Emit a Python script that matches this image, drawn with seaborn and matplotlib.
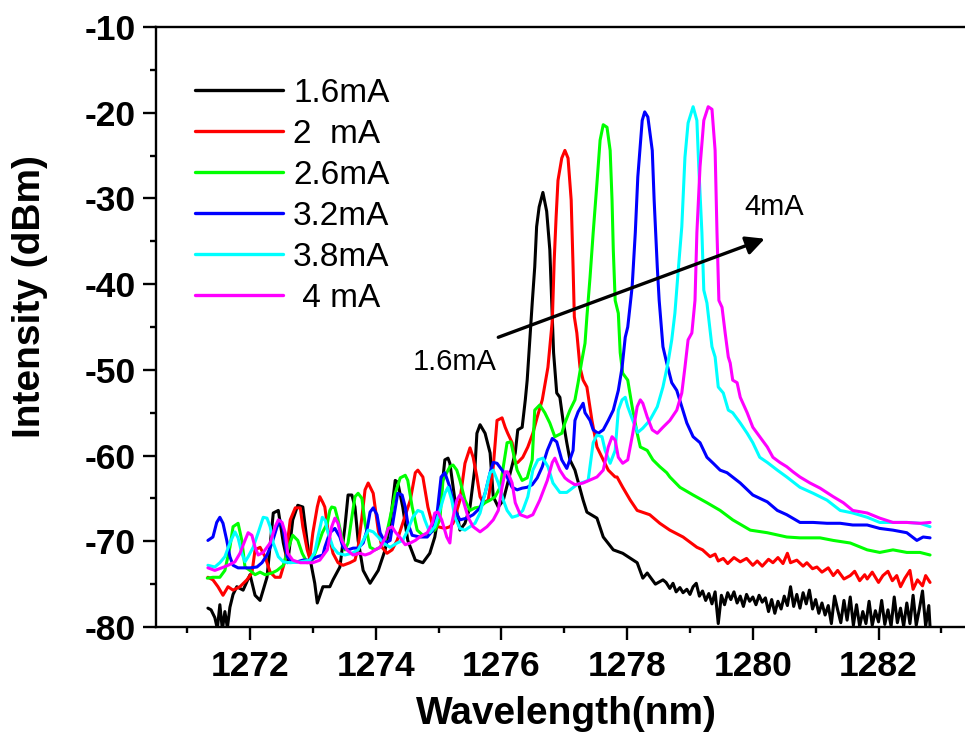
import numpy as np
import pandas as pd
import matplotlib
matplotlib.use("Agg")
import matplotlib.pyplot as plt
from matplotlib.ticker import MultipleLocator
import seaborn as sns

# ---------------- data ----------------
labels = ["1.6mA", "2  mA", "2.6mA", "3.2mA", "3.8mA", " 4 mA"]
colors = ["#000000", "#FF0000", "#00FF00", "#0000FF", "#00FFFF", "#FF00FF"]

wl_16 = [1271.33, 1271.38, 1271.44, 1271.48, 1271.52, 1271.56, 1271.60, 1271.64, 1271.68, 1271.73,
         1271.79, 1271.89, 1272.00, 1272.08, 1272.16, 1272.27, 1272.37, 1272.45, 1272.53, 1272.60,
         1272.68, 1272.76, 1272.84, 1272.92, 1273.03, 1273.07, 1273.16, 1273.27, 1273.32, 1273.43,
         1273.51, 1273.56, 1273.62, 1273.67, 1273.72, 1273.80, 1273.91, 1274.04, 1274.15, 1274.23,
         1274.31, 1274.35, 1274.43, 1274.51, 1274.63, 1274.75, 1274.86, 1274.94, 1275.02, 1275.10,
         1275.15, 1275.18, 1275.26, 1275.34, 1275.42, 1275.50, 1275.58, 1275.61, 1275.66, 1275.74,
         1275.82, 1275.87, 1275.95, 1276.03, 1276.10, 1276.22, 1276.26, 1276.33, 1276.38, 1276.41,
         1276.49, 1276.53, 1276.56, 1276.60, 1276.66, 1276.72, 1276.77, 1276.81, 1276.83, 1276.88,
         1276.93, 1276.98, 1277.04, 1277.09, 1277.17, 1277.30, 1277.36, 1277.52, 1277.62, 1277.78,
         1277.93, 1278.16, 1278.25, 1278.32, 1278.45, 1278.57,
         1278.62, 1278.68, 1278.73, 1278.78, 1278.84, 1278.89, 1278.95, 1279.00, 1279.05, 1279.10,
         1279.15, 1279.20, 1279.25, 1279.30, 1279.35, 1279.40, 1279.45, 1279.50, 1279.55, 1279.60,
         1279.65, 1279.70, 1279.75, 1279.80, 1279.85, 1279.90, 1279.95, 1280.00, 1280.05, 1280.10,
         1280.15, 1280.20, 1280.25, 1280.30, 1280.35, 1280.40, 1280.45, 1280.50, 1280.55, 1280.60,
         1280.65, 1280.70, 1280.75, 1280.80, 1280.85, 1280.90, 1280.95, 1281.00, 1281.05, 1281.10,
         1281.15, 1281.20, 1281.25, 1281.30, 1281.35, 1281.40, 1281.45, 1281.50, 1281.55, 1281.60,
         1281.65, 1281.70, 1281.75, 1281.80, 1281.85, 1281.90, 1281.95, 1282.00, 1282.05, 1282.10,
         1282.15, 1282.20, 1282.25, 1282.30, 1282.35, 1282.40, 1282.45, 1282.50, 1282.55, 1282.60,
         1282.65, 1282.70, 1282.75, 1282.80, 1282.82]
db_16 = [-77.8, -78.0, -78.9, -80.2, -77.4, -80.3, -78.2, -80.1, -77.7, -76.2,
         -75.3, -75.7, -73.9, -76.3, -76.9, -74.2, -66.7, -66.4, -70.2, -72.5,
         -67.5, -65.8, -66.0, -70.7, -74.9, -77.2, -75.3, -75.3, -74.5, -73.0,
         -68.3, -64.6, -64.6, -66.0, -69.9, -73.4, -74.9, -73.4, -71.0, -67.9,
         -62.9, -63.1, -66.0, -69.9, -72.2, -72.5, -71.4, -69.5, -66.0, -60.5,
         -60.3, -60.9, -65.2, -68.7, -67.9, -66.0, -61.3, -57.4, -56.4, -57.4,
         -59.7, -64.8, -66.0, -65.2, -63.2, -59.7, -57.0, -56.7, -53.5, -51.2,
         -42.2, -38.0, -33.3, -31.0, -29.3, -31.5, -36.0, -43.8, -48.0, -52.7,
         -53.2, -55.9, -58.5, -60.5, -61.7, -65.2, -66.6, -67.3, -69.5, -71.0,
         -71.4, -72.5, -74.3, -73.7, -75.0, -74.5,
         -74.8, -75.5, -74.9, -75.9, -75.4, -76.0, -75.6, -76.2, -75.3, -74.9,
         -76.4, -75.8, -76.9, -76.1, -77.3, -75.9, -79.6, -76.3, -77.4, -76.0,
         -76.8, -75.9, -77.2, -76.4, -77.6, -76.2, -77.0, -76.5, -77.4, -76.3,
         -77.1, -76.6, -78.2, -76.8, -78.4, -77.0, -77.9, -76.4, -77.5, -75.3,
         -77.6, -76.2, -77.8, -76.0, -77.3, -75.7, -77.9, -76.8, -78.4, -77.2,
         -78.6, -77.5, -79.6, -76.4, -78.0, -79.5, -76.9, -79.2, -76.5, -79.8,
         -77.4, -79.9, -78.2, -79.6, -77.0, -79.8, -78.1, -79.4, -76.9, -79.7,
         -78.0, -79.9, -76.5, -79.5, -77.8, -79.9, -77.2, -79.6, -76.3, -79.8,
         -77.9, -75.8, -79.9, -77.5, -80.0]

wl_20 = [1271.33, 1271.41, 1271.49, 1271.57, 1271.65, 1271.73, 1271.84, 1271.95, 1272.03, 1272.08,
         1272.16, 1272.24, 1272.32, 1272.40, 1272.48, 1272.56, 1272.64, 1272.72, 1272.80, 1272.84,
         1272.91, 1272.95, 1273.00, 1273.07, 1273.11, 1273.16, 1273.19, 1273.24, 1273.32, 1273.40,
         1273.48, 1273.59, 1273.67, 1273.72, 1273.78, 1273.83, 1273.88, 1273.96, 1274.04, 1274.10,
         1274.18, 1274.26, 1274.34, 1274.43, 1274.55, 1274.63, 1274.67, 1274.75, 1274.83, 1274.91,
         1274.99, 1275.10, 1275.18, 1275.23, 1275.34, 1275.42, 1275.50, 1275.55, 1275.61, 1275.66,
         1275.71, 1275.79, 1275.87, 1275.93, 1276.01, 1276.06, 1276.10, 1276.17, 1276.22, 1276.26,
         1276.34, 1276.42, 1276.50, 1276.57, 1276.65, 1276.74, 1276.81, 1276.84, 1276.87, 1276.90,
         1276.96, 1277.01, 1277.06, 1277.11, 1277.14, 1277.16, 1277.20, 1277.25, 1277.30, 1277.36,
         1277.44, 1277.52, 1277.62, 1277.70, 1277.81, 1277.84, 1277.93, 1278.05, 1278.16, 1278.36,
         1278.52, 1278.68, 1278.89, 1279.00, 1279.11, 1279.20, 1279.32, 1279.40, 1279.45, 1279.53,
         1279.60, 1279.70, 1279.80, 1279.90, 1280.00, 1280.07, 1280.15, 1280.25, 1280.32, 1280.40,
         1280.48, 1280.55, 1280.60, 1280.70, 1280.80, 1280.86, 1280.95, 1281.02, 1281.10, 1281.20,
         1281.28, 1281.35, 1281.45, 1281.55, 1281.62, 1281.70, 1281.78, 1281.82, 1281.90, 1282.00,
         1282.07, 1282.15, 1282.22, 1282.29, 1282.35, 1282.42, 1282.50, 1282.55, 1282.62, 1282.70,
         1282.75, 1282.82]
db_20 = [-74.2, -74.5, -75.3, -76.3, -75.3, -75.7, -75.3, -74.5, -73.7, -71.0,
         -70.7, -71.8, -73.6, -74.2, -74.2, -72.2, -67.5, -66.1, -66.1, -68.3,
         -71.0, -72.0, -69.0, -66.0, -64.8, -65.5, -66.0, -68.7, -71.4, -72.5,
         -72.8, -72.5, -72.2, -70.7, -67.2, -64.0, -63.2, -64.4, -68.7, -70.7,
         -71.4, -71.0, -69.9, -67.9, -65.2, -62.0, -61.7, -62.5, -66.0, -68.3,
         -68.3, -68.5, -68.3, -67.9, -65.2, -60.9, -59.1, -60.2, -62.5, -64.8,
         -65.5, -65.2, -61.3, -55.9, -55.6, -56.7, -57.4, -58.5, -60.9, -60.8,
         -60.2, -59.0, -57.4, -55.5, -53.5, -49.7, -44.2, -37.2, -32.2, -27.9,
         -25.3, -24.4, -25.3, -30.2, -38.0, -43.8, -45.7, -49.7, -51.2, -52.0,
         -55.9, -59.0, -60.5, -61.7, -62.5, -62.5, -63.7, -65.2, -66.4, -66.9,
         -67.9, -68.7, -69.5, -70.1, -70.7, -71.0, -71.8, -71.5, -72.3, -72.0,
         -72.6, -71.9, -72.4, -72.0, -72.8, -72.3, -72.9, -72.1, -72.5, -71.9,
         -72.6, -71.4, -72.5, -72.2, -72.9, -72.5, -73.2, -73.0, -73.6, -73.1,
         -74.0, -73.4, -74.4, -74.0, -73.5, -74.6, -73.9, -74.4, -73.6, -74.8,
         -74.0, -73.5, -74.6, -74.0, -75.3, -74.3, -73.4, -75.6, -74.5, -75.2,
         -74.0, -74.8]

wl_26 = [1271.32, 1271.41, 1271.52, 1271.60, 1271.68, 1271.73, 1271.81, 1271.87, 1271.92, 1272.00,
         1272.08, 1272.16, 1272.24, 1272.35, 1272.43, 1272.53, 1272.60, 1272.68, 1272.76, 1272.83,
         1272.91, 1272.99, 1273.07, 1273.15, 1273.23, 1273.27, 1273.30, 1273.35, 1273.40, 1273.46,
         1273.51, 1273.56, 1273.62, 1273.67, 1273.72, 1273.78, 1273.83, 1273.91, 1273.99, 1274.07,
         1274.15, 1274.23, 1274.31, 1274.39, 1274.47, 1274.51, 1274.58, 1274.66, 1274.75, 1274.86,
         1274.94, 1275.02, 1275.07, 1275.13, 1275.18, 1275.23, 1275.29, 1275.34, 1275.42, 1275.50,
         1275.58, 1275.66, 1275.74, 1275.82, 1275.90, 1275.98, 1276.03, 1276.09, 1276.15, 1276.18,
         1276.25, 1276.33, 1276.41, 1276.49, 1276.53, 1276.61, 1276.69, 1276.77, 1276.85, 1276.96,
         1277.01, 1277.09, 1277.17, 1277.22, 1277.28, 1277.33, 1277.36, 1277.41, 1277.46, 1277.52,
         1277.57, 1277.62, 1277.68, 1277.73, 1277.76, 1277.78, 1277.81, 1277.86, 1277.89, 1277.93,
         1278.01, 1278.08, 1278.16, 1278.21, 1278.32, 1278.41, 1278.52, 1278.63, 1278.68, 1278.84,
         1279.05, 1279.27, 1279.48, 1279.68, 1279.96, 1280.23, 1280.54, 1280.75, 1281.07, 1281.28,
         1281.55, 1281.82, 1282.02, 1282.23, 1282.45, 1282.66, 1282.82]
db_26 = [-74.3, -74.2, -74.2, -73.4, -70.7, -68.3, -67.9, -69.9, -73.0, -73.4,
         -73.9, -73.6, -73.9, -73.7, -73.4, -72.8, -71.0, -69.3, -69.9, -71.4,
         -72.5, -72.2, -70.7, -69.0, -67.9, -66.4, -66.0, -66.1, -67.5, -69.5,
         -71.0, -70.2, -67.2, -64.8, -64.4, -65.0, -67.9, -70.7, -71.0, -70.7,
         -69.9, -67.2, -64.4, -62.6, -62.3, -62.9, -66.0, -68.7, -69.3, -69.0,
         -68.7, -67.5, -62.9, -62.0, -61.3, -61.1, -61.7, -62.9, -65.2, -66.4,
         -66.1, -66.0, -65.5, -65.2, -64.8, -63.7, -61.3, -58.5, -58.4, -59.4,
         -61.7, -62.9, -62.6, -60.5, -54.7, -54.1, -55.0, -56.2, -57.8, -57.4,
         -56.2, -54.7, -53.5, -51.5, -48.9, -46.9, -43.8, -39.2, -34.0, -28.2,
         -23.2, -21.4, -21.7, -24.4, -30.2, -36.0, -41.9, -43.4, -48.0, -50.4,
         -51.2, -54.3, -57.4, -59.0, -59.4, -60.5, -61.3, -62.0, -62.5, -63.7,
         -64.6, -65.5, -66.4, -67.5, -68.7, -69.0, -69.5, -69.6, -69.6, -69.9,
         -70.2, -71.0, -71.3, -71.0, -71.3, -71.3, -71.6]

wl_32 = [1271.33, 1271.41, 1271.47, 1271.52, 1271.57, 1271.63, 1271.68, 1271.73, 1271.81, 1271.89,
         1272.00, 1272.11, 1272.19, 1272.27, 1272.35, 1272.43, 1272.48, 1272.53, 1272.59, 1272.67,
         1272.75, 1272.84, 1272.95, 1273.07, 1273.16, 1273.19, 1273.27, 1273.35, 1273.43, 1273.48,
         1273.56, 1273.64, 1273.72, 1273.80, 1273.86, 1273.91, 1273.96, 1274.02, 1274.07, 1274.15,
         1274.23, 1274.28, 1274.35, 1274.42, 1274.47, 1274.51, 1274.58, 1274.70, 1274.82, 1274.91,
         1274.98, 1275.04, 1275.10, 1275.18, 1275.26, 1275.34, 1275.45, 1275.55, 1275.66, 1275.74,
         1275.82, 1275.87, 1275.93, 1276.01, 1276.09, 1276.17, 1276.25, 1276.33, 1276.41, 1276.49,
         1276.57, 1276.65, 1276.73, 1276.81, 1276.88, 1276.96, 1277.04, 1277.14, 1277.17, 1277.22,
         1277.30, 1277.33, 1277.41, 1277.46, 1277.54, 1277.62, 1277.70, 1277.78, 1277.86, 1277.92,
         1277.97, 1278.01, 1278.08, 1278.13, 1278.17, 1278.24, 1278.28, 1278.33, 1278.40, 1278.43,
         1278.48, 1278.51, 1278.57, 1278.63, 1278.71, 1278.79, 1278.87, 1278.95, 1279.05, 1279.16,
         1279.27, 1279.37, 1279.48, 1279.59, 1279.80, 1280.00, 1280.23, 1280.39, 1280.54, 1280.75,
         1280.96, 1281.18, 1281.39, 1281.59, 1281.82, 1282.02, 1282.23, 1282.45, 1282.61, 1282.71,
         1282.82]
db_32 = [-69.9, -69.5, -67.8, -67.2, -67.9, -69.9, -71.8, -72.8, -73.1, -73.1,
         -73.1, -73.0, -72.5, -71.6, -70.2, -68.3, -67.6, -68.6, -71.8, -72.4,
         -72.4, -72.2, -72.2, -71.8, -71.6, -70.7, -69.0, -68.5, -69.5, -70.7,
         -71.0, -70.8, -70.8, -70.2, -68.7, -66.6, -66.1, -66.9, -69.0, -70.2,
         -69.9, -67.5, -64.4, -64.6, -66.0, -67.9, -69.3, -69.5, -69.5, -68.7,
         -66.5, -62.5, -62.0, -63.7, -66.4, -67.5, -67.3, -66.9, -66.1, -64.4,
         -62.0, -60.8, -60.9, -61.7, -62.5, -63.7, -64.0, -63.8, -63.7, -63.4,
         -62.6, -61.3, -59.4, -58.0, -58.4, -60.5, -61.5, -59.4, -55.9, -54.9,
         -53.9, -55.0, -55.9, -57.0, -57.4, -57.0, -55.9, -54.7, -52.4, -49.7,
         -46.2, -45.0, -40.3, -34.0, -27.5, -20.9, -19.9, -20.5, -24.4, -30.2,
         -38.0, -41.9, -47.3, -49.2, -51.5, -52.4, -54.3, -56.2, -57.8, -58.5,
         -60.2, -60.9, -61.7, -62.0, -63.2, -64.6, -65.4, -66.4, -66.9, -67.8,
         -67.8, -67.9, -67.9, -68.1, -68.1, -68.5, -68.7, -69.0, -69.9, -69.5,
         -69.6]

wl_38 = [1271.33, 1271.44, 1271.52, 1271.60, 1271.68, 1271.76, 1271.81, 1271.87, 1271.92, 1271.97,
         1272.05, 1272.13, 1272.21, 1272.27, 1272.32, 1272.37, 1272.45, 1272.53, 1272.64, 1272.80,
         1272.95, 1273.03, 1273.08, 1273.15, 1273.20, 1273.24, 1273.32, 1273.40, 1273.51, 1273.62,
         1273.72, 1273.80, 1273.88, 1273.96, 1274.04, 1274.12, 1274.23, 1274.34, 1274.43, 1274.51,
         1274.59, 1274.67, 1274.74, 1274.78, 1274.86, 1274.94, 1275.02, 1275.10, 1275.15, 1275.21,
         1275.26, 1275.34, 1275.42, 1275.50, 1275.58, 1275.66, 1275.74, 1275.82, 1275.87, 1275.95,
         1276.03, 1276.09, 1276.17, 1276.26, 1276.34, 1276.42, 1276.50, 1276.58, 1276.66, 1276.74,
         1276.82, 1276.93, 1277.04, 1277.20, 1277.38, 1277.46, 1277.52, 1277.60, 1277.65, 1277.73,
         1277.81, 1277.86, 1277.92, 1277.97, 1278.01, 1278.09, 1278.17, 1278.25, 1278.36, 1278.48,
         1278.57, 1278.65, 1278.71, 1278.76, 1278.81, 1278.87, 1278.92, 1278.97, 1279.05, 1279.11,
         1279.14, 1279.19, 1279.22, 1279.27, 1279.35, 1279.40, 1279.45, 1279.53, 1279.61, 1279.68,
         1279.80, 1279.91, 1280.00, 1280.11, 1280.23, 1280.39, 1280.54, 1280.75, 1280.96, 1281.18,
         1281.39, 1281.59, 1281.82, 1282.02, 1282.23, 1282.45, 1282.66, 1282.82]
db_38 = [-72.8, -73.0, -72.5, -71.8, -70.2, -68.9, -69.6, -71.4, -72.4, -71.8,
         -70.7, -69.0, -67.2, -67.3, -68.3, -70.2, -71.8, -72.4, -72.5, -72.4,
         -72.2, -71.3, -69.5, -67.2, -67.6, -69.0, -70.7, -71.4, -71.6, -71.4,
         -71.0, -69.9, -68.7, -68.9, -69.5, -70.2, -70.7, -70.2, -69.9, -68.7,
         -67.2, -66.4, -66.6, -67.5, -69.0, -68.3, -66.4, -64.4, -63.7, -65.2,
         -67.2, -68.5, -68.7, -68.3, -67.9, -66.7, -64.4, -62.0, -61.7, -63.2,
         -65.2, -66.4, -67.2, -67.0, -66.4, -64.8, -61.7, -60.5, -60.3, -61.3,
         -63.2, -64.3, -64.3, -63.4, -62.9, -58.5, -57.6, -57.8, -59.4, -60.9,
         -59.4, -54.7, -53.5, -53.2, -54.3, -55.9, -57.3, -56.8, -55.9, -54.3,
         -52.0, -49.2, -46.5, -43.4, -38.7, -33.3, -25.2, -21.2, -19.3, -20.9,
         -26.3, -34.0, -40.7, -42.2, -47.3, -48.5, -52.0, -52.7, -54.7, -55.0,
         -56.2, -57.4, -58.5, -60.2, -60.8, -61.7, -62.5, -63.7, -64.4, -65.2,
         -66.4, -66.7, -67.2, -67.8, -67.8, -67.8, -67.9, -68.3]

wl_40 = [1271.33, 1271.44, 1271.55, 1271.65, 1271.76, 1271.84, 1271.92, 1271.97, 1272.03, 1272.08,
         1272.13, 1272.21, 1272.32, 1272.40, 1272.45, 1272.51, 1272.56, 1272.60, 1272.68, 1272.80,
         1272.91, 1273.00, 1273.11, 1273.23, 1273.30, 1273.35, 1273.40, 1273.46, 1273.54, 1273.64,
         1273.75, 1273.83, 1273.91, 1273.99, 1274.07, 1274.15, 1274.20, 1274.26, 1274.31, 1274.39,
         1274.47, 1274.55, 1274.63, 1274.70, 1274.82, 1274.90, 1274.94, 1274.99, 1275.05, 1275.13,
         1275.18, 1275.21, 1275.29, 1275.34, 1275.39, 1275.47, 1275.55, 1275.66, 1275.77, 1275.87,
         1275.95, 1276.01, 1276.06, 1276.10, 1276.17, 1276.22, 1276.30, 1276.41, 1276.50, 1276.61,
         1276.73, 1276.81, 1276.85, 1276.93, 1277.01, 1277.06, 1277.17, 1277.30, 1277.52, 1277.62,
         1277.70, 1277.76, 1277.81, 1277.86, 1277.93, 1278.01, 1278.09, 1278.16, 1278.21, 1278.25,
         1278.32, 1278.40, 1278.48, 1278.57, 1278.68, 1278.79, 1278.87, 1278.92, 1278.97, 1279.03,
         1279.08, 1279.11, 1279.16, 1279.22, 1279.29, 1279.35, 1279.40, 1279.43, 1279.46, 1279.51,
         1279.56, 1279.61, 1279.64, 1279.68, 1279.75, 1279.80, 1279.91, 1280.00, 1280.11, 1280.23,
         1280.32, 1280.43, 1280.54, 1280.64, 1280.75, 1280.91, 1281.07, 1281.28, 1281.44, 1281.59,
         1281.82, 1282.02, 1282.23, 1282.45, 1282.66, 1282.82]
db_40 = [-73.1, -73.4, -73.1, -72.8, -72.4, -71.4, -69.9, -69.0, -69.3, -70.7,
         -71.6, -71.3, -70.2, -68.3, -67.5, -67.8, -69.0, -71.4, -72.2, -72.5,
         -72.5, -72.5, -72.2, -71.0, -68.3, -67.3, -67.9, -69.9, -71.0, -71.6,
         -71.4, -71.6, -71.4, -71.0, -70.7, -69.6, -68.5, -68.3, -68.9, -69.6,
         -70.4, -70.2, -69.9, -69.5, -69.0, -67.9, -66.7, -66.6, -67.5, -69.5,
         -70.2, -67.9, -65.2, -64.6, -65.2, -67.2, -68.3, -68.9, -68.3, -67.5,
         -66.4, -63.7, -61.9, -61.9, -63.2, -65.5, -66.9, -67.2, -66.9, -65.2,
         -62.9, -60.8, -60.3, -61.7, -62.6, -62.9, -63.4, -63.2, -62.5, -61.7,
         -59.0, -57.8, -58.2, -60.2, -60.9, -60.5, -57.4, -54.3, -53.5, -53.9,
         -55.5, -57.0, -57.4, -56.7, -55.9, -54.7, -52.7, -49.7, -46.5, -45.7,
         -41.9, -34.0, -26.3, -20.9, -19.3, -19.6, -24.4, -34.0, -41.9, -42.7,
         -45.7, -48.5, -49.2, -51.2, -51.5, -53.2, -55.0, -56.7, -57.8, -59.0,
         -60.2, -60.8, -61.3, -61.9, -62.5, -63.2, -63.8, -64.8, -65.5, -66.4,
         -66.7, -67.3, -67.8, -67.8, -67.9, -67.8]

series_wl = [wl_16, wl_20, wl_26, wl_32, wl_38, wl_40]
series_db = [db_16, db_20, db_26, db_32, db_38, db_40]

x_ticks = [1272, 1274, 1276, 1278, 1280, 1282]
y_ticks = [-80, -70, -60, -50, -40, -30, -20, -10]

# long-form table built from the named arrays
frames = []
for lab, w, d in zip(labels, series_wl, series_db):
    frames.append(pd.DataFrame({"wl": w, "dbm": d, "current": lab}))
df = pd.concat(frames, ignore_index=True)

# ---------------- style ----------------
sns.set_theme(style="white")
plt.rcParams["font.family"] = ["Liberation Sans", "DejaVu Sans"]
plt.rcParams["text.color"] = "black"
plt.rcParams["axes.labelcolor"] = "black"
plt.rcParams["xtick.color"] = "black"
plt.rcParams["ytick.color"] = "black"

fig = plt.figure(figsize=(9.65, 7.42), dpi=100)
ax = fig.add_axes([156 / 965, 115 / 742, 809 / 965, 600 / 742])

sns.lineplot(data=df, x="wl", y="dbm", hue="current", hue_order=labels,
             palette=colors, estimator=None, sort=False, linewidth=2.2,
             legend=False, ax=ax)

ax.set_xlim(1270.504, 1283.376)
ax.set_ylim(-80, -10)
ax.set_xticks(x_ticks)
ax.set_yticks(y_ticks)
ax.xaxis.set_minor_locator(MultipleLocator(1))
ax.yaxis.set_minor_locator(MultipleLocator(5))
ax.set_xticklabels([str(t) for t in x_ticks], fontsize=25.5, fontweight="bold", color="black")
ax.set_yticklabels([str(t) for t in y_ticks], fontsize=25.5, fontweight="bold", color="black")

for s in ["left", "bottom", "top"]:
    ax.spines[s].set_visible(True)
    ax.spines[s].set_color("black")
    ax.spines[s].set_linewidth(1.7)
ax.spines["right"].set_visible(False)

ax.tick_params(axis="both", which="major", direction="out", length=9.5, width=1.7,
               color="black", labelcolor="black", pad=5, bottom=True, left=True,
               top=False, right=False)
ax.tick_params(axis="both", which="minor", direction="out", length=4.5, width=1.7,
               color="black", bottom=True, left=True, top=False, right=False)
ax.tick_params(axis="x", which="major", pad=7)

ax.set_xlabel("Wavelength(nm)", fontsize=28, fontweight="bold", color="black")
ax.set_ylabel("Intensity (dBm)", fontsize=28, fontweight="bold", color="black")
ax.xaxis.set_label_coords(0.507, -0.115)
ax.yaxis.set_label_coords(-0.133, 0.55)

# legend
handles = ax.get_lines()[:len(labels)]
leg = ax.legend(handles, labels, loc="upper left", bbox_to_anchor=(0.048, 0.915),
                frameon=False, fontsize=24, handlelength=2.65, handletextpad=0.3,
                labelspacing=0.3, borderpad=0, borderaxespad=0)
for h in leg.legend_handles:
    h.set_linewidth(2.4)
for t in leg.get_texts():
    t.set_color("black")

# annotation arrow and labels
ax.annotate("", xy=(1280.19, -34.7), xytext=(1275.95, -46.2),
            arrowprops=dict(arrowstyle="-|>", color="black", lw=2.4, mutation_scale=28,
                            shrinkA=0, shrinkB=0))
ax.text(1274.59, -49.1, "1.6mA", fontsize=21, va="center", ha="left", color="black")
ax.text(1279.86, -31.0, "4mA", fontsize=21, va="center", ha="left", color="black")

fig.savefig("out.png", dpi=100)
